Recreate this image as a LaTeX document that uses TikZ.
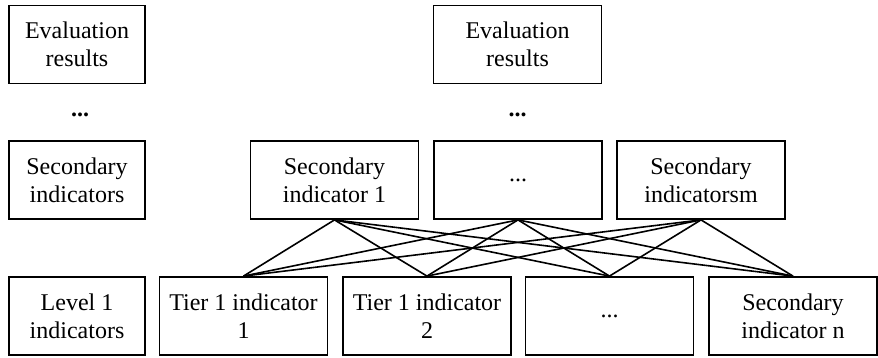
\documentclass[tikz,border=0pt]{standalone}
\usepackage{fontspec}
\setmainfont{Liberation Serif}
\usepackage{tikz}
\usetikzlibrary{positioning, calc}

\begin{document}
\begin{tikzpicture}[x=0.5pt, y=-0.5pt,
    every node/.style={font=\fontsize{12}{14}\selectfont},
    labelbox/.style={draw, line width=0.9pt, align=center, minimum width=68pt, minimum height=39pt, inner sep=1pt},
    itembox/.style={draw, line width=0.9pt, align=center, minimum width=84pt, minimum height=39pt, inner sep=1pt},
    link/.style={line width=0.8pt}]
\useasboundingbox (0,0) rectangle (878,358);
% Left column of level names
\node[labelbox] (evalL) at (77,44.5) {Evaluation\\results};
\node[font=\fontsize{12}{14}\selectfont\bfseries] (dotsL) at (80,115) {...};
\node[labelbox] (secL) at (77,180) {Secondary\\indicators};
\node[labelbox] (lvlL) at (77,316) {Level 1\\indicators};
% Top of the hierarchy
\node[itembox] (evalR) at (517.5,44.5) {Evaluation\\results};
\node[font=\fontsize{12}{14}\selectfont\bfseries] (dotsR) at (517.5,115) {...};
% Secondary indicators
\node[itembox] (sec1) at (334.5,180) {Secondary\\indicator 1};
\node[itembox] (secdots) at (518,180) {...};
\node[itembox] (secm) at (701,180) {Secondary\\indicatorsm};
% First tier indicators
\node[itembox] (tier1) at (243.5,316) {Tier 1 indicator\\1};
\node[itembox] (tier2) at (427,316) {Tier 1 indicator\\2};
\node[itembox] (tierdots) at (609.5,316) {...};
\node[itembox] (secn) at (793,316) {Secondary\\indicator n};
% Connect every secondary indicator to every tier 1 indicator
\foreach \t in {sec1,secdots,secm} {
    \foreach \b in {tier1,tier2,tierdots,secn} {
        \draw[link] (\t.south) -- (\b.north);
    }
}
\end{tikzpicture}
\end{document}
